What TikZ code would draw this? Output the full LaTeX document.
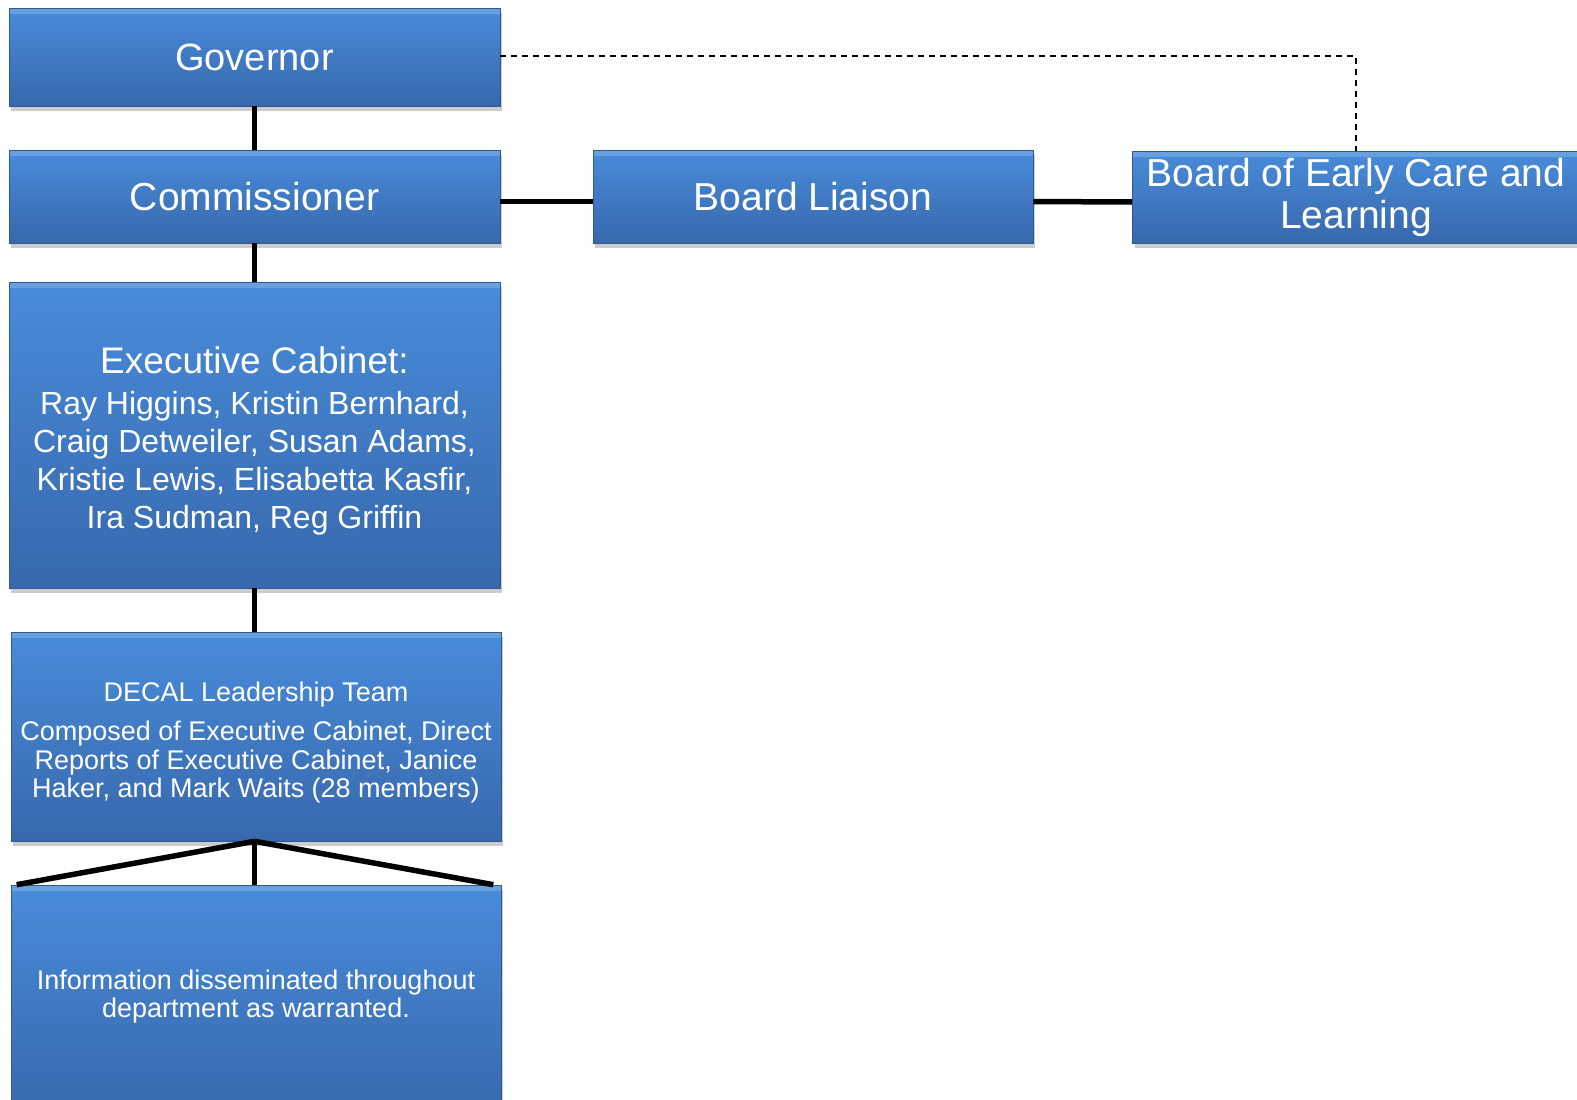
\documentclass[tikz,border=0pt]{standalone}
\usepackage{fontspec}
\setmainfont{Liberation Sans}
\usetikzlibrary{shadows,positioning}

\definecolor{boxtop}{RGB}{72,140,218}
\definecolor{boxbot}{RGB}{56,104,172}

\begin{document}
\begin{tikzpicture}[x=1pt,y=-1pt,
    orgbox/.style={rectangle,draw=boxbot!85!black,line width=0.6pt,
        top color=boxtop,bottom color=boxbot,text=white,align=center,
        inner sep=0pt,
        path picture={\fill[white,opacity=0.18]
            (path picture bounding box.north west) rectangle
            ([yshift=-6pt]path picture bounding box.north east);},
        drop shadow={shadow xshift=2pt,shadow yshift=-5pt,opacity=0.4}},
    boxtext/.style={text=white,align=center,inner sep=0pt},
    link/.style={line width=5.5pt,black},
    dotlink/.style={line width=2.6pt,black,dash pattern=on 6pt off 5pt}]

    \node[orgbox,minimum width=491,minimum height=98,
          font=\fontsize{38}{42}\selectfont] (gov) at (254.5,57) {Governor};
    \node[orgbox,minimum width=491,minimum height=93,
          font=\fontsize{39}{42}\selectfont] (comm) at (254.5,196.5) {Commissioner};
    \node[orgbox,minimum width=440,minimum height=93,
          font=\fontsize{39}{42}\selectfont] (liaison) at (813,196.5) {Board Liaison};
    \node[orgbox,minimum width=447,minimum height=92,
          font=\fontsize{39}{42}\selectfont] (board) at (1356,197)
          {Board of Early Care and\\Learning};

    \node[orgbox,minimum width=491,minimum height=306] (cabinet) at (254.5,435) {};
    \node[boxtext,font=\fontsize{32}{38}\selectfont] (cabinet-text)
          at ([yshift=-6pt]cabinet.center)
          {{\fontsize{37}{38}\selectfont Executive Cabinet:}\\[3pt]
           Ray Higgins, Kristin Bernhard,\\
           Craig Detweiler, Susan Adams,\\
           Kristie Lewis, Elisabetta Kasfir,\\
           Ira Sudman, Reg Griffin};

    \node[orgbox,minimum width=490,minimum height=209] (decal) at (256,736.5) {};
    \node[boxtext,font=\fontsize{27}{28.5}\selectfont] (decal-text)
          at ([yshift=-6pt]decal.center)
          {DECAL Leadership Team\\[11pt]
           Composed of Executive Cabinet, Direct\\
           Reports of Executive Cabinet, Janice\\
           Haker, and Mark Waits (28 members)};

    \node[orgbox,minimum width=490,minimum height=230] (info) at (256,1000) {};
    \node[boxtext,font=\fontsize{27}{28}\selectfont] (info-text)
          at ([yshift=3pt]info.center)
          {Information disseminated throughout\\
           department as warranted.};

    % reporting lines
    \draw[link] (gov.south) -- (comm.north);
    \draw[link] (comm.south) -- (cabinet.north);
    \draw[link] (cabinet.south) -- (decal.north -| cabinet.south);
    \draw[link] ([yshift=-5]comm.east) -- ([yshift=-5]liaison.west);
    \draw[link] ([yshift=-5]liaison.east) -- ([yshift=-5]board.west);
    \coordinate (fan) at (decal.south -| cabinet.south);
    \draw[link] (fan) -- (info.north -| fan);
    \draw[link] (fan) -- ([xshift=6]info.north west);
    \draw[link] (fan) -- ([xshift=-8]info.north east);
    \draw[dotlink] ([yshift=1]gov.east) -| (board.north);

    \pgfresetboundingbox
    \useasboundingbox (0,0) rectangle (1577,1100);
\end{tikzpicture}
\end{document}
